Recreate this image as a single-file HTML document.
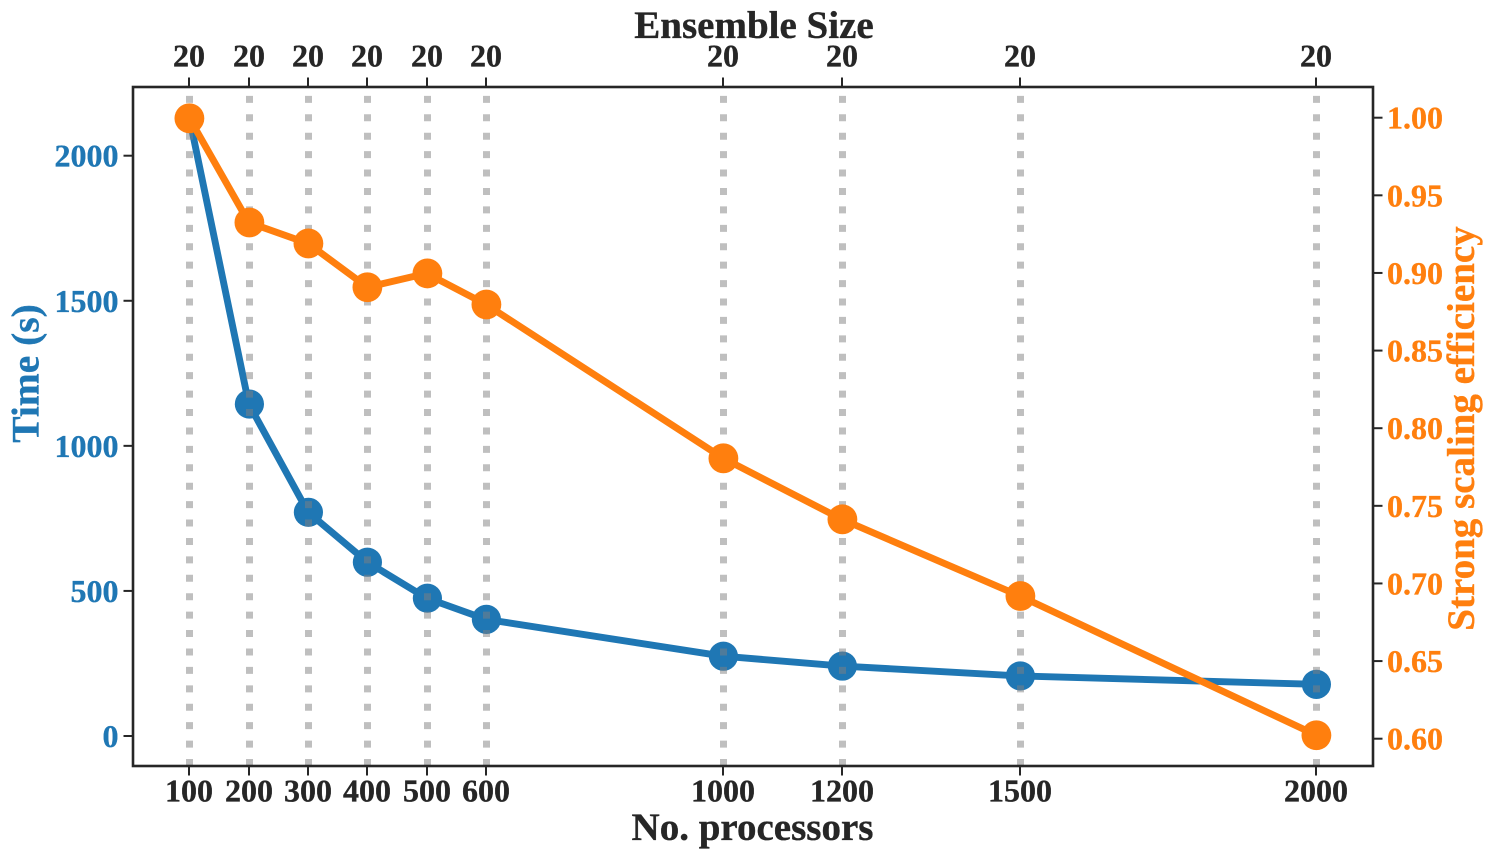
<!DOCTYPE html>
<html>
<head>
<meta charset="utf-8">
<title>Strong scaling</title>
<style>
html,body{margin:0;padding:0;background:#fff;width:1495px;height:861px;overflow:hidden}
svg{display:block}
text{font-family:"Liberation Serif",serif;font-weight:bold;stroke-width:0.35px;paint-order:stroke}
</style>
</head>
<body>
<svg id="chart" xmlns="http://www.w3.org/2000/svg" width="1495" height="861" viewBox="0 0 1495 861"></svg>
<script>
const processors = [100, 200, 300, 400, 500, 600, 1000, 1200, 1500, 2000];
const ensembleSizes = [20, 20, 20, 20, 20, 20, 20, 20, 20, 20];
const timeSeconds = [2129, 1144, 771, 599, 475, 402, 275, 241, 207, 178];
const efficiency = [0.9996, 0.9325, 0.919, 0.8908, 0.8997, 0.8797, 0.7806, 0.7413, 0.6919, 0.6022];
const timeTicks = [0, 500, 1000, 1500, 2000];
const efficiencyTicks = ["0.60", "0.65", "0.70", "0.75", "0.80", "0.85", "0.90", "0.95", "1.00"];

const svg = document.getElementById('chart');
const NS = 'http://www.w3.org/2000/svg';
const plot = {l: 133, r: 1373, t: 87, b: 766};
const BLUE = '#1f77b4', ORANGE = '#ff7f0e', DARK = '#262626';

function xScale(v) { return 189.5 + (v - 100) * (1316.5 - 189.5) / 1900; }
function xSnap(v) { return Math.floor(xScale(v) + 0.4); }
function yTime(v) { return 736 - v * (736 - 155.7) / 2000; }
function yEff(v) { return 738.7 - (v - 0.6) * (738.7 - 117.7) / 0.4; }

function make(tag, attrs, parent) {
  const el = document.createElementNS(NS, tag);
  for (const k in attrs) el.setAttribute(k, attrs[k]);
  (parent || svg).appendChild(el);
  return el;
}
function label(txt, x, y, size, fill, anchor, rot) {
  const t = make('text', {x: x, y: y, 'font-size': size, fill: fill, stroke: fill, 'text-anchor': anchor});
  if (rot) t.setAttribute('transform', 'rotate(-90 ' + x + ' ' + y + ')');
  t.textContent = txt;
  return t;
}
function series(values, yFn, color, name, radius) {
  const g = make('g', {});
  
  
  const pts = values.map((v, i) => xScale(processors[i]) + ',' + yFn(v)).join(' ');
  const line = make('polyline', {points: pts, fill: 'none', stroke: color, 'stroke-width': 6.9, 'stroke-linejoin': 'round'}, g);
  
  
  values.forEach((v, i) => {
    const c = make('circle', {cx: xSnap(processors[i]) + 0.4, cy: yFn(v), r: radius, fill: color}, g);
    
    
  });
}

/* blue series sits beneath the grid lines */
series(timeSeconds, yTime, BLUE, 'time-series', 14.6);

processors.forEach(p => {
  const gx = xSnap(p) + 0.5;
  const gl = make('line', {x1: gx, x2: gx, y1: plot.b, y2: plot.t, stroke: '#808080', 'stroke-opacity': 0.5, 'stroke-width': 7, 'stroke-dasharray': '7 11.42'});
  
  
});

series(efficiency, yEff, ORANGE, 'efficiency-series', 14.9);

const frame = make('rect', {x: plot.l, y: plot.t, width: plot.r - plot.l, height: plot.b - plot.t, fill: 'none', stroke: DARK, 'stroke-width': 2.6});



processors.forEach((p, i) => {
  const x = xSnap(p);
  const bt = make('line', {x1: x, x2: x, y1: plot.b, y2: plot.b + 9.5, stroke: DARK, 'stroke-width': 2});
  
  
  const tt = make('line', {x1: x, x2: x, y1: plot.t, y2: plot.t - 9.5, stroke: DARK, 'stroke-width': 2});
  
  
  const bl = label(String(p), x, 801.5, 32, DARK, 'middle');
  
  
  const tl = label(String(ensembleSizes[i]), x, 66.5, 32, DARK, 'middle');
  
  
});

timeTicks.forEach(v => {
  const y = yTime(v);
  const t = make('line', {x1: plot.l, x2: plot.l - 9.5, y1: y, y2: y, stroke: DARK, 'stroke-width': 2});
  
  
  const l = label(String(v), 118.5, y + 11, 32, BLUE, 'end');
  
  
});

efficiencyTicks.forEach(v => {
  const y = yEff(parseFloat(v));
  const t = make('line', {x1: plot.r, x2: plot.r + 9.5, y1: y, y2: y, stroke: DARK, 'stroke-width': 2});
  
  
  const l = label(v, 1387, y + 11, 32, ORANGE, 'start');
  
  
});

const xTitle = label('No. processors', 752.5, 840, 39, DARK, 'middle');


const topTitle = label('Ensemble Size', 754, 38, 39, DARK, 'middle');


const yTitle = label('Time (s)', 38.5, 373.5, 39.5, BLUE, 'middle', true);


const y2Title = label('Strong scaling efficiency', 1474, 428.5, 39, ORANGE, 'middle', true);


</script>
</body>
</html>
